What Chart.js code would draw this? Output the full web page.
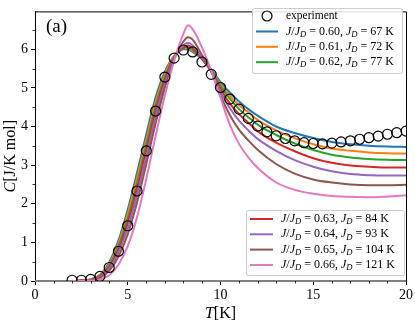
<!DOCTYPE html>
<html>
<head>
<meta charset="utf-8">
<script src="https://cdn.jsdelivr.net/npm/chart.js@4.4.1/dist/chart.umd.min.js"></script>
<style>
  html, body { margin: 0; padding: 0; background: #fff; }
  #wrap { width: 415px; height: 322px; }
</style>
</head>
<body>
<div id="wrap"><canvas id="chart"></canvas></div>
<script>
// experiment (circles)
const tExp = [2, 2.5, 3, 3.5, 4, 4.5, 5, 5.5, 6, 6.5, 7, 7.5, 8, 8.5, 9, 9.5, 10, 10.5, 11, 11.5,
              12, 12.5, 13, 13.5, 14, 14.5, 15, 15.5, 16, 16.5, 17, 17.5, 18, 18.5, 19, 19.5, 20];
const cExp = [0.02, 0.02, 0.04, 0.12, 0.35, 0.77, 1.43, 2.33, 3.37, 4.40, 5.28, 5.77, 5.98, 5.93, 5.67, 5.35, 5.01, 4.71, 4.45, 4.21,
              4.01, 3.86, 3.76, 3.69, 3.63, 3.58, 3.56, 3.55, 3.57, 3.60, 3.63, 3.67, 3.71, 3.75, 3.80, 3.84, 3.88];

// model curves
const tModel = [2, 2.5, 3, 3.5, 4, 4.5, 5, 5.5, 6, 6.5, 7, 7.5, 8, 8.25, 8.5, 9, 9.5, 10, 10.5, 11, 11.5, 12, 13, 14, 15, 16, 17, 18, 19, 20];
const c060 = [0, 0.01, 0.04, 0.16, 0.48, 1.05, 1.85, 2.80, 3.80, 4.75, 5.42, 5.83, 6.00, 6.00, 5.93, 5.75, 5.47, 5.15, 4.88, 4.65, 4.45, 4.28, 4.00, 3.83, 3.70, 3.60, 3.54, 3.50, 3.48, 3.47];
const c061 = [0, 0.01, 0.04, 0.15, 0.44, 0.97, 1.74, 2.66, 3.66, 4.63, 5.35, 5.82, 6.02, 6.03, 5.96, 5.75, 5.45, 5.10, 4.80, 4.55, 4.37, 4.17, 3.90, 3.70, 3.54, 3.43, 3.37, 3.33, 3.31, 3.30];
const c062 = [0, 0.01, 0.03, 0.13, 0.40, 0.90, 1.62, 2.52, 3.52, 4.51, 5.27, 5.80, 6.03, 6.06, 5.99, 5.75, 5.44, 5.05, 4.72, 4.45, 4.24, 4.05, 3.78, 3.56, 3.39, 3.27, 3.20, 3.16, 3.14, 3.13];
const c063 = [0, 0.01, 0.03, 0.12, 0.36, 0.82, 1.51, 2.39, 3.39, 4.39, 5.20, 5.78, 6.05, 6.10, 6.03, 5.75, 5.43, 4.98, 4.60, 4.32, 4.10, 3.88, 3.58, 3.36, 3.18, 3.06, 2.99, 2.96, 2.94, 2.94];
const c064 = [0, 0, 0.02, 0.10, 0.32, 0.74, 1.38, 2.22, 3.22, 4.25, 5.11, 5.77, 6.10, 6.17, 6.10, 5.78, 5.42, 4.90, 4.48, 4.15, 3.90, 3.68, 3.37, 3.13, 2.96, 2.84, 2.77, 2.74, 2.73, 2.73];
const c065 = [0, 0, 0.02, 0.08, 0.26, 0.63, 1.21, 2.03, 3.03, 4.08, 5.00, 5.74, 6.20, 6.31, 6.25, 5.85, 5.42, 4.80, 4.30, 3.92, 3.64, 3.40, 3.03, 2.78, 2.63, 2.55, 2.50, 2.48, 2.48, 2.49];
const c066 = [0, 0, 0.01, 0.04, 0.15, 0.42, 0.90, 1.65, 2.65, 3.75, 4.80, 5.70, 6.40, 6.62, 6.52, 6.05, 5.45, 4.75, 4.05, 3.55, 3.20, 2.93, 2.55, 2.36, 2.26, 2.20, 2.18, 2.17, 2.19, 2.22];

const ratios = ["0.60", "0.61", "0.62", "0.63", "0.64", "0.65", "0.66"];
const jdValues = [67, 72, 77, 84, 93, 104, 121];
const colors = ["#1f77b4", "#ff7f0e", "#2ca02c", "#d62728", "#9467bd", "#8c564b", "#e377c2"];
const curves = [c060, c061, c062, c063, c064, c065, c066];

const SERIF = '"Liberation Serif", "DejaVu Serif", serif';

// writes J/J_D = r, J_D = n K with italic J and subscript D
function drawLabel(ctx, x, y, ratio, jd, size) {
    const parts = [["J", "i"], ["/", "r"], ["J", "i"], ["D", "s"], [" = " + ratio + ", ", "r"],
                   ["J", "i"], ["D", "s"], [" = " + jd + " K", "r"]];
    parts.forEach(([txt, st]) => {
        const fs = st === "s" ? size * 0.72 : size;
        ctx.font = (st === "r" ? "" : "italic ") + fs + "px " + SERIF;
        ctx.fillText(txt, x, st === "s" ? y + size * 0.25 : y);
        x += ctx.measureText(txt).width;
    });
}

function legendBox(ctx, x0, y0, x1, y1) {
    ctx.save();
    ctx.fillStyle = "rgba(255,255,255,0.85)";
    ctx.strokeStyle = "#cccccc";
    ctx.lineWidth = 1;
    ctx.beginPath();
    ctx.roundRect(x0 + 0.5, y0 + 0.5, x1 - x0, y1 - y0, 2);
    ctx.fill();
    ctx.stroke();
    ctx.restore();
}

const decor = {
    id: "decor",
    beforeDatasetsDraw(chart) {
        const { ctx, chartArea: a, scales: { y } } = chart;
        const y0 = y.getPixelForValue(0);
        ctx.save();
        ctx.strokeStyle = "#808080";
        ctx.lineWidth = 2;
        ctx.beginPath();
        ctx.moveTo(a.left, y0);
        ctx.lineTo(a.right, y0);
        ctx.stroke();
        ctx.restore();
    },
    afterDraw(chart) {
        const { ctx, chartArea: a, scales: { x, y } } = chart;
        ctx.save();
        // top and right spines
        ctx.strokeStyle = "#000";
        ctx.lineWidth = 1;
        ctx.beginPath();
        ctx.moveTo(a.left, a.top + 0.5);
        ctx.lineTo(a.right + 0.5, a.top + 0.5);
        ctx.lineTo(a.right + 0.5, a.bottom);
        ctx.stroke();

        // minor ticks
        ctx.lineWidth = 0.8;
        ctx.beginPath();
        for (let t = 1; t < 20; t++) {
            if (t % 5 === 0) continue;
            const px = Math.round(x.getPixelForValue(t)) + 0.5;
            ctx.moveTo(px, a.bottom);
            ctx.lineTo(px, a.bottom + 2.5);
        }
        for (let v = 0.5; v < 7; v += 1) {
            const py = Math.round(y.getPixelForValue(v)) + 0.5;
            ctx.moveTo(a.left, py);
            ctx.lineTo(a.left - 2.5, py);
        }
        ctx.stroke();

        // panel label
        ctx.fillStyle = "#000";
        ctx.textBaseline = "alphabetic";
        ctx.textAlign = "left";
        ctx.font = "19px " + SERIF;
        ctx.fillText("(a)", 46, 32);

        // axis titles
        ctx.font = "italic 16px " + SERIF;
        let w1 = ctx.measureText("T").width;
        ctx.font = "16px " + SERIF;
        let w2 = ctx.measureText("[K]").width;
        let cx = (a.left + a.right) / 2 - (w1 + w2) / 2;
        ctx.font = "italic 16px " + SERIF;
        ctx.fillText("T", cx, 318);
        ctx.font = "16px " + SERIF;
        ctx.fillText("[K]", cx + w1, 318);

        // y title, baseline at x = 15 so glyphs sit left of the tick labels
        ctx.save();
        ctx.translate(15, (a.top + a.bottom) / 2 + 10);
        ctx.rotate(-Math.PI / 2);
        ctx.font = "italic 16px " + SERIF;
        w1 = ctx.measureText("C").width;
        ctx.font = "16px " + SERIF;
        w2 = ctx.measureText("[J/K mol]").width;
        cx = -(w1 + w2) / 2;
        ctx.font = "italic 16px " + SERIF;
        ctx.fillText("C", cx, 0);
        ctx.font = "16px " + SERIF;
        ctx.fillText("[J/K mol]", cx + w1, 0);
        ctx.restore();

        ctx.textBaseline = "middle";
        // upper legend: experiment + first three curves
        legendBox(ctx, 252, 8, 402, 73);
        const rowsTop = [16, 31.5, 46.8, 62.2];
        ctx.beginPath();
        ctx.strokeStyle = "#000";
        ctx.lineWidth = 1.2;
        ctx.arc(267, rowsTop[0], 5, 0, Math.PI * 2);
        ctx.stroke();
        ctx.fillStyle = "#000";
        ctx.font = "11.5px " + SERIF;
        ctx.fillText("experiment", 286, rowsTop[0]);
        for (let i = 0; i < 3; i++) {
            const ry = rowsTop[i + 1];
            ctx.strokeStyle = colors[i];
            ctx.lineWidth = 2;
            ctx.beginPath();
            ctx.moveTo(256, ry);
            ctx.lineTo(278, ry);
            ctx.stroke();
            drawLabel(ctx, 286, ry, ratios[i], jdValues[i], 12);
        }

        // lower legend: last four curves
        legendBox(ctx, 246, 210, 404, 275);
        const rowsBot = [219, 234.3, 249.6, 265];
        for (let i = 3; i < 7; i++) {
            const ry = rowsBot[i - 3];
            ctx.strokeStyle = colors[i];
            ctx.lineWidth = 2;
            ctx.beginPath();
            ctx.moveTo(250, ry);
            ctx.lineTo(273, ry);
            ctx.stroke();
            drawLabel(ctx, 281, ry, ratios[i], jdValues[i], 12);
        }
        ctx.restore();
    }
};

const datasets = [{
    label: "experiment",
    data: tExp.map((t, i) => ({ x: t, y: cExp[i] })),
    showLine: false,
    pointStyle: "circle",
    pointRadius: 5,
    pointBorderWidth: 1.2,
    pointBorderColor: "#000",
    pointBackgroundColor: "rgba(0,0,0,0)",
    clip: 0,
    order: 0
}];
curves.forEach((c, i) => {
    datasets.push({
        label: "J/J_D = " + ratios[i] + ", J_D = " + jdValues[i] + " K",
        data: tModel.map((t, k) => ({ x: t, y: c[k] })),
        borderColor: colors[i],
        borderWidth: 2,
        pointRadius: 0,
        cubicInterpolationMode: "monotone",
        fill: false,
        order: 7 - i + 1
    });
});

new Chart(document.getElementById("chart"), {
    type: "line",
    data: { datasets },
    options: {
        responsive: true,
        maintainAspectRatio: false,
        devicePixelRatio: 1,
        animation: false,
        layout: { padding: { top: 3, right: 8, left: 0, bottom: 0 } },
        plugins: { legend: { display: false }, tooltip: { enabled: false } },
        scales: {
            x: {
                type: "linear",
                min: 0,
                max: 20,
                ticks: { stepSize: 5, padding: 2, autoSkip: false, color: "#000", font: { family: SERIF, size: 14 } },
                grid: { drawOnChartArea: false, tickLength: 4, tickColor: "#000" },
                border: { display: true, color: "#000", width: 1 },
                afterFit: s => { s.height = 41; }
            },
            y: {
                min: 0,
                max: 6.98,
                ticks: { stepSize: 1, padding: 3, autoSkip: false, color: "#000", font: { family: SERIF, size: 14 } },
                grid: { drawOnChartArea: false, tickLength: 4, tickColor: "#000" },
                border: { display: true, color: "#000", width: 1 },
                afterBuildTicks: s => { s.ticks = s.ticks.filter(t => Number.isInteger(t.value)); },
                afterFit: s => { s.width = 35; }
            }
        }
    },
    plugins: [decor]
});
</script>
</body>
</html>
